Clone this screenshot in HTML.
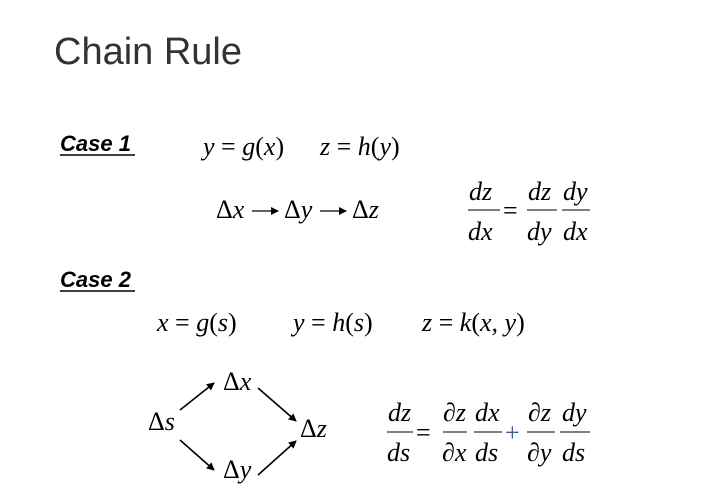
<!DOCTYPE html>
<html><head><meta charset="utf-8"><style>
html,body{margin:0;padding:0;background:#fff;}
svg{display:block;}
.m{font-family:"Liberation Serif",serif;font-style:italic;font-size:26px;fill:#000;}
.u{font-family:"Liberation Serif",serif;font-style:normal;font-size:26px;fill:#000;}
.c{font-family:"Liberation Sans",sans-serif;font-weight:bold;font-style:italic;font-size:22px;fill:#000;}
</style></head><body>
<svg width="703" height="504" viewBox="0 0 703 504">
<text x="54" y="64" font-family="Liberation Sans, sans-serif" font-size="38" fill="#333">Chain Rule</text>

<defs><marker id="ah" markerWidth="8" markerHeight="8" refX="7" refY="4" orient="auto" markerUnits="userSpaceOnUse"><path d="M0,0 L8,4 L0,8 z" fill="#000"/></marker></defs>

<g>
<text class="c" x="60" y="151">Case 1</text>
<line x1="60" y1="155" x2="135" y2="155" stroke="#000" stroke-width="1.5"/>
<text class="m" x="203" y="155">y <tspan class="u">=</tspan> g<tspan class="u" font-size="31">(</tspan>x<tspan class="u" font-size="31">)</tspan></text>
<text class="m" x="320" y="155">z <tspan class="u">=</tspan> h<tspan class="u" font-size="31">(</tspan>y<tspan class="u" font-size="31">)</tspan></text>
<g>
<text class="m" x="216" y="218"><tspan class="u">Δ</tspan>x</text>
<text class="m" x="284" y="218"><tspan class="u">Δ</tspan>y</text>
<text class="m" x="352" y="218"><tspan class="u">Δ</tspan>z</text>
<g stroke="#000" stroke-width="1.3" marker-end="url(#ah)">
<line x1="252" y1="211" x2="278" y2="211"/>
<line x1="320" y1="211" x2="346" y2="211"/>
</g>
</g>
<g>
<text class="m" x="469" y="200">dz</text><line x1="468" y1="210" x2="500" y2="210" stroke="#000"/><text class="m" x="468" y="240">dx</text>
<text class="u" x="503" y="219">=</text>
<text class="m" x="528" y="200">dz</text><line x1="527" y1="210" x2="557" y2="210" stroke="#000"/><text class="m" x="527" y="240">dy</text>
<text class="m" x="563" y="200">dy</text><line x1="562" y1="210" x2="590" y2="210" stroke="#000"/><text class="m" x="563" y="240">dx</text>
</g>
</g>

<g>
<text class="c" x="60" y="287">Case 2</text>
<line x1="60" y1="291" x2="135" y2="291" stroke="#000" stroke-width="1.5"/>
<text class="m" x="157" y="331">x <tspan class="u">=</tspan> g<tspan class="u" font-size="31">(</tspan>s<tspan class="u" font-size="31">)</tspan></text>
<text class="m" x="293" y="331">y <tspan class="u">=</tspan> h<tspan class="u" font-size="31">(</tspan>s<tspan class="u" font-size="31">)</tspan></text>
<text class="m" x="422" y="331">z <tspan class="u">=</tspan> k<tspan class="u" font-size="31">(</tspan>x, y<tspan class="u" font-size="31">)</tspan></text>

<g>
<text class="m" x="148" y="430"><tspan class="u">Δ</tspan>s</text>
<text class="m" x="223" y="390"><tspan class="u">Δ</tspan>x</text>
<text class="m" x="300" y="437"><tspan class="u">Δ</tspan>z</text>
<text class="m" x="223" y="478"><tspan class="u">Δ</tspan>y</text>
<g stroke="#000" stroke-width="1.6" marker-end="url(#ah)">
<line x1="180" y1="410" x2="214" y2="383"/>
<line x1="258" y1="388" x2="296" y2="421"/>
<line x1="180" y1="440" x2="214" y2="470"/>
<line x1="258" y1="475" x2="296" y2="441"/>
</g>
</g>
<g>
<text class="m" x="388" y="421">dz</text><line x1="387" y1="432" x2="413" y2="432" stroke="#000"/><text class="m" x="387" y="461">ds</text>
<text class="u" x="416" y="441">=</text>
<text class="m" x="443" y="421">∂z</text><line x1="443" y1="432" x2="467" y2="432" stroke="#000"/><text class="m" x="442" y="461">∂x</text>
<text class="m" x="475" y="421">dx</text><line x1="474" y1="432" x2="502" y2="432" stroke="#000"/><text class="m" x="475" y="461">ds</text>
<text class="u" x="505" y="441" style="fill:#2a5db0">+</text>
<text class="m" x="528" y="421">∂z</text><line x1="527" y1="432" x2="555" y2="432" stroke="#000"/><text class="m" x="527" y="461">∂y</text>
<text class="m" x="562" y="421">dy</text><line x1="560" y1="432" x2="590" y2="432" stroke="#000"/><text class="m" x="562" y="461">ds</text>
</g>
</g>
</svg>
</body></html>
